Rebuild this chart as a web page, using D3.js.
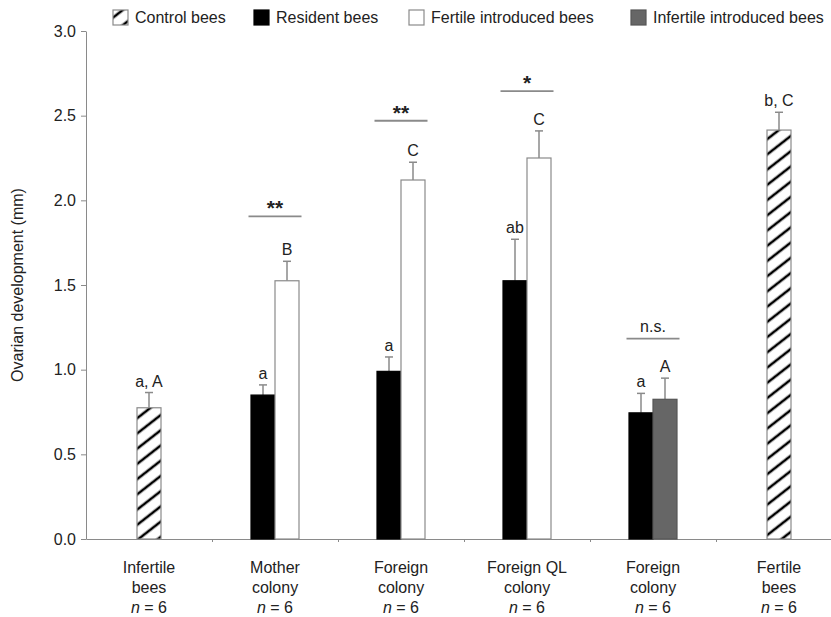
<!DOCTYPE html>
<html>
<head>
<meta charset="utf-8">
<script src="https://cdn.jsdelivr.net/npm/d3@7"></script>
<style>
body{margin:0;background:#fff}
svg{display:block;font-family:"Liberation Sans",Arial,sans-serif}
</style>
</head>
<body>
<div id="chart"></div>
<script>
// categories along x
var groupLabels = [["Infertile","bees"],["Mother","colony"],["Foreign","colony"],["Foreign QL","colony"],["Foreign","colony"],["Fertile","bees"]]
var groupN = [6,6,6,6,6,6]

// legend series
var seriesKeys = ["control","resident","fertile","infertile"]
var seriesNames = ["Control bees","Resident bees","Fertile introduced bees","Infertile introduced bees"]

// one entry per bar
var barGroup = [0,1,1,2,2,3,3,4,4,5]
var barSlot = [0.5,0,1,0,1,0,1,0,1,0.5]
var barType = ["control","resident","fertile","resident","fertile","resident","fertile","resident","infertile","control"]
var barMean = [0.775,0.85,1.525,0.99,2.12,1.525,2.25,0.745,0.825,2.415]
var barSE = [0.09,0.06,0.115,0.085,0.105,0.245,0.16,0.115,0.125,0.105]
var barLetters = ["a, A","a","B","a","C","ab","C","a","A","b, C"]

// significance brackets
var sigGroup = [1,2,3,4]
var sigText = ["**","**","*","n.s."]
var sigLevel = [1.905,2.47,2.645,1.183]

var yTicks = [0,0.5,1,1.5,2,2.5,3]

var width = 831, height = 617
var grey = "#8a8a8a"
var svg = d3.select("#chart").append("svg").attr("width",width).attr("height",height)

var defs = svg.append("defs")
var pat = defs.append("pattern")
    .attr("id","hatch")
    .attr("patternUnits","userSpaceOnUse")
    .attr("width",12).attr("height",12)
    .attr("patternTransform","rotate(-38)")
pat.append("rect").attr("width",12).attr("height",12).attr("fill","#fff")
pat.append("line").attr("x1",0).attr("x2",12).attr("y1",6).attr("y2",6)
    .attr("stroke","#000").attr("stroke-width",2.6)

var fills = {control:"url(#hatch)",resident:"#000",fertile:"#fff",infertile:"#666"}
var strokes = {control:grey,resident:"#000",fertile:grey,infertile:"#555"}

var y = d3.scaleLinear().domain([0,3]).range([539,31])
var x = d3.scaleBand().domain(d3.range(groupLabels.length)).range([86,842])
var xb = d3.scaleLinear().domain([0,6]).range([86,842])
var barW = 24

// y axis
var yAxis = svg.append("g").attr("transform","translate(86,0)")
    .call(d3.axisLeft(y).tickValues(yTicks).tickFormat(d3.format(".1f")).tickSize(5).tickSizeOuter(0).tickPadding(5))
yAxis.selectAll("path,line").attr("stroke",grey)
yAxis.selectAll("text").attr("font-size",16).attr("font-family","Liberation Sans, Arial, sans-serif").attr("fill","#222")

// x axis (boundary ticks)
var xAxis = svg.append("g").attr("transform","translate(0,539)")
    .call(d3.axisBottom(xb).tickValues([1,2,3,4,5]).tickFormat("").tickSize(3).tickSizeOuter(0))
xAxis.selectAll("path,line").attr("stroke",grey)

svg.append("text")
    .attr("transform","translate(23,285) rotate(-90)")
    .attr("text-anchor","middle")
    .attr("font-size",16).attr("fill","#222")
    .text("Ovarian development (mm)")

// category labels
var lab = svg.append("g").selectAll("text").data(groupLabels).enter().append("text")
    .attr("text-anchor","middle")
    .attr("font-size",16).attr("fill","#222")
    .attr("x",function(d,i){ return x(i)+x.bandwidth()/2 })
    .attr("y",573)
lab.each(function(d,i){
    var t = d3.select(this)
    d.forEach(function(s,j){
        t.append("tspan").attr("x",x(i)+x.bandwidth()/2).attr("y",573+20*j).text(s)
    })
    var n = t.append("tspan").attr("x",x(i)+x.bandwidth()/2).attr("y",613)
    n.append("tspan").attr("font-style","italic").text("n")
    n.append("tspan").text(" = "+groupN[i])
})

function barX(i){
    return x(barGroup[i])+x.bandwidth()/2+(barSlot[i]-1)*barW
}

// error bars
var eb = svg.append("g").selectAll("g").data(barMean).enter().append("g")
eb.append("line")
    .attr("x1",function(d,i){ return barX(i)+barW/2 })
    .attr("x2",function(d,i){ return barX(i)+barW/2 })
    .attr("y1",function(d){ return y(d) })
    .attr("y2",function(d,i){ return y(d+barSE[i]) })
    .attr("stroke",grey).attr("stroke-width",1.5)
eb.append("line")
    .attr("x1",function(d,i){ return barX(i)+barW/2-4 })
    .attr("x2",function(d,i){ return barX(i)+barW/2+4 })
    .attr("y1",function(d,i){ return y(d+barSE[i]) })
    .attr("y2",function(d,i){ return y(d+barSE[i]) })
    .attr("stroke",grey).attr("stroke-width",1.5)

// bars
svg.append("g").selectAll("rect").data(barMean).enter().append("rect")
    .attr("x",function(d,i){ return barX(i) })
    .attr("width",barW)
    .attr("y",function(d){ return y(d) })
    .attr("height",function(d){ return y(0)-y(d) })
    .attr("fill",function(d,i){ return fills[barType[i]] })
    .attr("stroke",function(d,i){ return strokes[barType[i]] })
    .attr("stroke-width",1.2)

// letters
svg.append("g").selectAll("text").data(barLetters).enter().append("text")
    .attr("text-anchor","middle").attr("font-size",16).attr("fill","#222")
    .attr("x",function(d,i){ return barX(i)+barW/2 })
    .attr("y",function(d,i){ return y(barMean[i]+barSE[i])-6 })
    .text(function(d){ return d })

// significance
var sg = svg.append("g").selectAll("g").data(sigGroup).enter().append("g")
sg.append("line")
    .attr("x1",function(d){ return x(d)+x.bandwidth()/2-26.5 })
    .attr("x2",function(d){ return x(d)+x.bandwidth()/2+26.5 })
    .attr("y1",function(d,i){ return y(sigLevel[i]) })
    .attr("y2",function(d,i){ return y(sigLevel[i]) })
    .attr("stroke",grey).attr("stroke-width",1.8)
sg.append("text")
    .attr("text-anchor","middle").attr("fill","#222")
    .attr("x",function(d){ return x(d)+x.bandwidth()/2 })
    .attr("y",function(d,i){ return y(sigLevel[i]) - (sigText[i]=="n.s." ? 7 : 1) })
    .attr("font-size",function(d,i){ return sigText[i]=="n.s." ? 16 : 21 })
    .attr("font-weight",function(d,i){ return sigText[i]=="n.s." ? "normal" : "bold" })
    .text(function(d,i){ return sigText[i] })

// legend
var legX = [113,254,409,631]
var leg = svg.append("g").selectAll("g").data(seriesKeys).enter().append("g")
    .attr("transform",function(d,i){ return "translate("+legX[i]+",10)" })
leg.append("rect").attr("width",15).attr("height",15)
    .attr("fill",function(d){ return fills[d] })
    .attr("stroke",function(d){ return strokes[d] }).attr("stroke-width",1.2)
leg.append("text").attr("x",22).attr("y",13).attr("font-size",16).attr("fill","#222")
    .text(function(d,i){ return seriesNames[i] })
</script>
</body>
</html>
